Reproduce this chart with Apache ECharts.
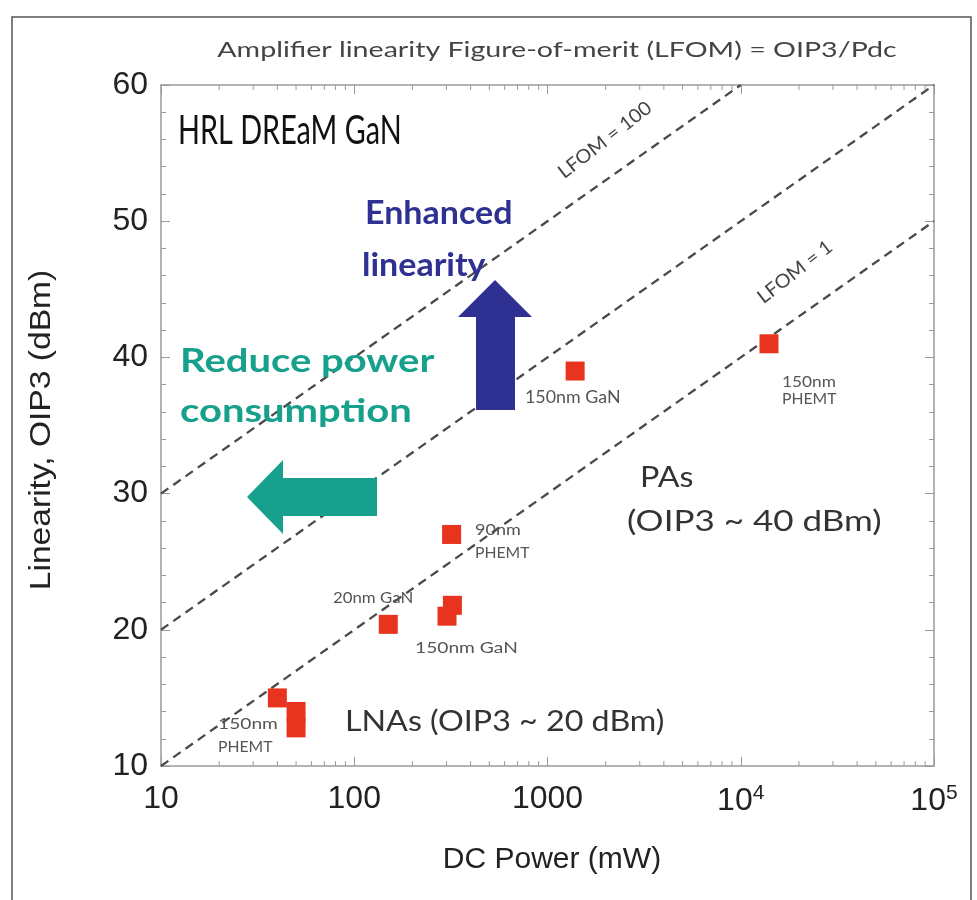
<!DOCTYPE html>
<html>
<head>
<meta charset="utf-8">
<script src="https://cdn.jsdelivr.net/npm/echarts@6/dist/echarts.min.js"></script>
<style>
  html, body { margin: 0; padding: 0; background: #fff; }
  #chart { width: 977px; height: 900px; }
</style>
</head>
<body>
<div id="chart"></div>
<script>
// x: DC power (mW), y: OIP3 (dBm)
const xTicks = [10, 100, 1000, 10000, 100000];
const yTicks = [10, 20, 30, 40, 50, 60];
const decades = [10, 100, 1000, 10000];
const minorSteps = [2, 3, 4, 5, 6, 7, 8, 9];

// LFOM = OIP3 / Pdc guide lines
const lfom1 = [[10, 10], [100000, 50]];
const lfom10 = [[10, 20], [100000, 60]];
const lfom100 = [[10, 30], [10000, 60]];

// measured amplifiers
const devicePower = [319, 150, 322, 302, 40, 50, 50, 1390, 14000];
const deviceOip3 = [27, 20.4, 21.8, 21, 15, 14, 12.8, 39, 41];

const chart = echarts.init(document.getElementById('chart'));

const minorTicks = decades.flatMap(d => minorSteps.map(m => [d * m, 10]));
const devices = devicePower.map((p, i) => [p, deviceOip3[i]]);

const axisGray = '#9a9a9a';
const sans = 'Liberation Sans, Arial, sans-serif';
const calibri = 'Lato, Noto Sans, sans-serif';

const dashed = { color: '#4a4a4a', width: 2.3, type: [9, 6] };

// free text, stretched horizontally like the source picture
const txt = (x, y, text, size, opts = {}) => ({
  type: 'text',
  x: x,
  y: y,
  rotation: opts.rotation || 0,
  scaleX: opts.sx || 1,
  z: 100,
  style: {
    text: text,
    fill: opts.color || '#555',
    font: (opts.weight || 'normal') + ' ' + size + 'px ' + (opts.family || calibri),
    textAlign: opts.align || 'left',
    textVerticalAlign: 'middle'
  }
});

const option = {
  animation: false,
  backgroundColor: '#fff',
  grid: { left: 161, right: 43, top: 85, bottom: 134 },
  xAxis: [
    {
      type: 'log',
      logBase: 10,
      min: 10,
      max: 100000,
      axisLine: { lineStyle: { color: axisGray, width: 1.5 } },
      axisTick: { inside: true, length: 9, lineStyle: { color: axisGray } },
      minorTick: { show: false },
      splitLine: { show: false },
      axisLabel: {
        margin: 17,
        color: '#222',
        fontSize: 32,
        fontFamily: sans,
        formatter: v => v >= 10000 ? '10{sup|' + Math.round(Math.log10(v)) + '}' : String(v),
        rich: {
          sup: { fontSize: 21, fontFamily: sans, color: '#222', verticalAlign: 'top', padding: [0, 0, 16, 0] }
        }
      }
    },
    {
      type: 'log',
      logBase: 10,
      min: 10,
      max: 100000,
      position: 'top',
      axisLine: { lineStyle: { color: axisGray, width: 1.5 } },
      axisTick: { inside: true, length: 9, lineStyle: { color: axisGray } },
      axisLabel: { show: false },
      splitLine: { show: false }
    }
  ],
  yAxis: [
    {
      type: 'value',
      min: 10,
      max: 60,
      interval: 10,
      axisLine: { show: true, lineStyle: { color: axisGray, width: 1.5 } },
      axisTick: { show: true, inside: true, length: 9, lineStyle: { color: axisGray } },
      minorTick: { show: true, splitNumber: 5, length: 5, lineStyle: { color: axisGray } },
      splitLine: { show: false },
      axisLabel: { margin: 13, color: '#222', fontSize: 32, fontFamily: sans }
    },
    {
      type: 'value',
      min: 10,
      max: 60,
      interval: 10,
      position: 'right',
      axisLine: { show: true, lineStyle: { color: axisGray, width: 1.5 } },
      axisTick: { show: true, inside: true, length: 9, lineStyle: { color: axisGray } },
      minorTick: { show: true, splitNumber: 5, length: 5, lineStyle: { color: axisGray } },
      splitLine: { show: false },
      axisLabel: { show: false }
    }
  ],
  series: [
    {
      name: 'minor ticks',
      type: 'custom',
      silent: true,
      data: minorTicks,
      renderItem: (params, api) => {
        const bottom = api.coord([api.value(0), 10]);
        const top = api.coord([api.value(0), 60]);
        const st = { stroke: axisGray, lineWidth: 1 };
        return {
          type: 'group',
          children: [
            { type: 'line', shape: { x1: bottom[0], y1: bottom[1], x2: bottom[0], y2: bottom[1] - 5 }, style: st },
            { type: 'line', shape: { x1: top[0], y1: top[1], x2: top[0], y2: top[1] + 5 }, style: st }
          ]
        };
      }
    },
    { name: 'LFOM = 1', type: 'line', data: lfom1, symbol: 'none', lineStyle: dashed },
    { name: 'LFOM = 10', type: 'line', data: lfom10, symbol: 'none', lineStyle: dashed },
    { name: 'LFOM = 100', type: 'line', data: lfom100, symbol: 'none', lineStyle: dashed },
    {
      name: 'devices',
      type: 'scatter',
      data: devices,
      symbol: 'rect',
      symbolSize: 19,
      z: 5,
      itemStyle: { color: '#e8341f', opacity: 1 }
    }
  ],
  graphic: [
    {
      type: 'rect',
      z: -1,
      shape: { x: 12, y: 17, width: 959, height: 900 },
      style: { fill: 'none', stroke: '#555', lineWidth: 1.5 }
    },
    txt(557, 50, 'Amplifier linearity Figure-of-merit (LFOM) = OIP3/Pdc', 22, { align: 'center', color: '#444', sx: 1.3 }),
    txt(42, 430, 'Linearity, OIP3 (dBm)', 30, { align: 'center', color: '#222', family: sans, rotation: Math.PI / 2, sx: 1.12 }),
    txt(552, 860, 'DC Power (mW)', 30, { align: 'center', color: '#222', family: sans }),
    txt(178, 131, 'HRL DREaM GaN', 40, { color: '#111', sx: 0.72 }),
    txt(605, 140, 'LFOM = 100', 19, { align: 'center', rotation: 0.66, color: '#444', sx: 1.05 }),
    txt(795, 272, 'LFOM = 1', 19, { align: 'center', rotation: 0.66, color: '#444', sx: 1.05 }),
    txt(365, 213, 'Enhanced', 33, { weight: 'bold', color: '#2e3192', sx: 1.03 }),
    txt(362, 265, 'linearity', 33, { weight: 'bold', color: '#2e3192', sx: 1.03 }),
    txt(180, 362, 'Reduce power', 32, { weight: 'bold', color: '#17a08c', sx: 1.25 }),
    txt(180, 412, 'consumption', 32, { weight: 'bold', color: '#17a08c', sx: 1.25 }),
    {
      type: 'polygon',
      z: 90,
      shape: { points: [[476, 410], [476, 317], [458, 317], [495, 280], [532, 317], [515, 317], [515, 410]] },
      style: { fill: '#2e3192' }
    },
    {
      type: 'polygon',
      z: 90,
      shape: { points: [[377, 478], [283, 478], [283, 460], [247, 497], [283, 534], [283, 516], [377, 516]] },
      style: { fill: '#17a08c' }
    },
    txt(525, 398, '150nm GaN', 17, { sx: 1.05 }),
    txt(782, 382, '150nm', 15, { sx: 1.15 }),
    txt(782, 399, 'PHEMT', 15, { sx: 1.05 }),
    txt(640, 478, 'PAs', 28, { color: '#333', sx: 1.15 }),
    txt(627, 522, '(OIP3 ~ 40 dBm)', 28, { color: '#333', sx: 1.25 }),
    txt(475, 530, '90nm', 15, { sx: 1.2 }),
    txt(475, 553, 'PHEMT', 15, { sx: 1.05 }),
    txt(333, 598, '20nm GaN', 16, { sx: 1.05 }),
    txt(415, 648, '150nm GaN', 16, { sx: 1.2 }),
    txt(218, 724, '150nm', 16, { sx: 1.2 }),
    txt(218, 747, 'PHEMT', 15, { sx: 1.05 }),
    txt(345, 722, 'LNAs (OIP3 ~ 20 dBm)', 28, { color: '#333', sx: 1.15 })
  ]
};

chart.setOption(option);
</script>
</body>
</html>
